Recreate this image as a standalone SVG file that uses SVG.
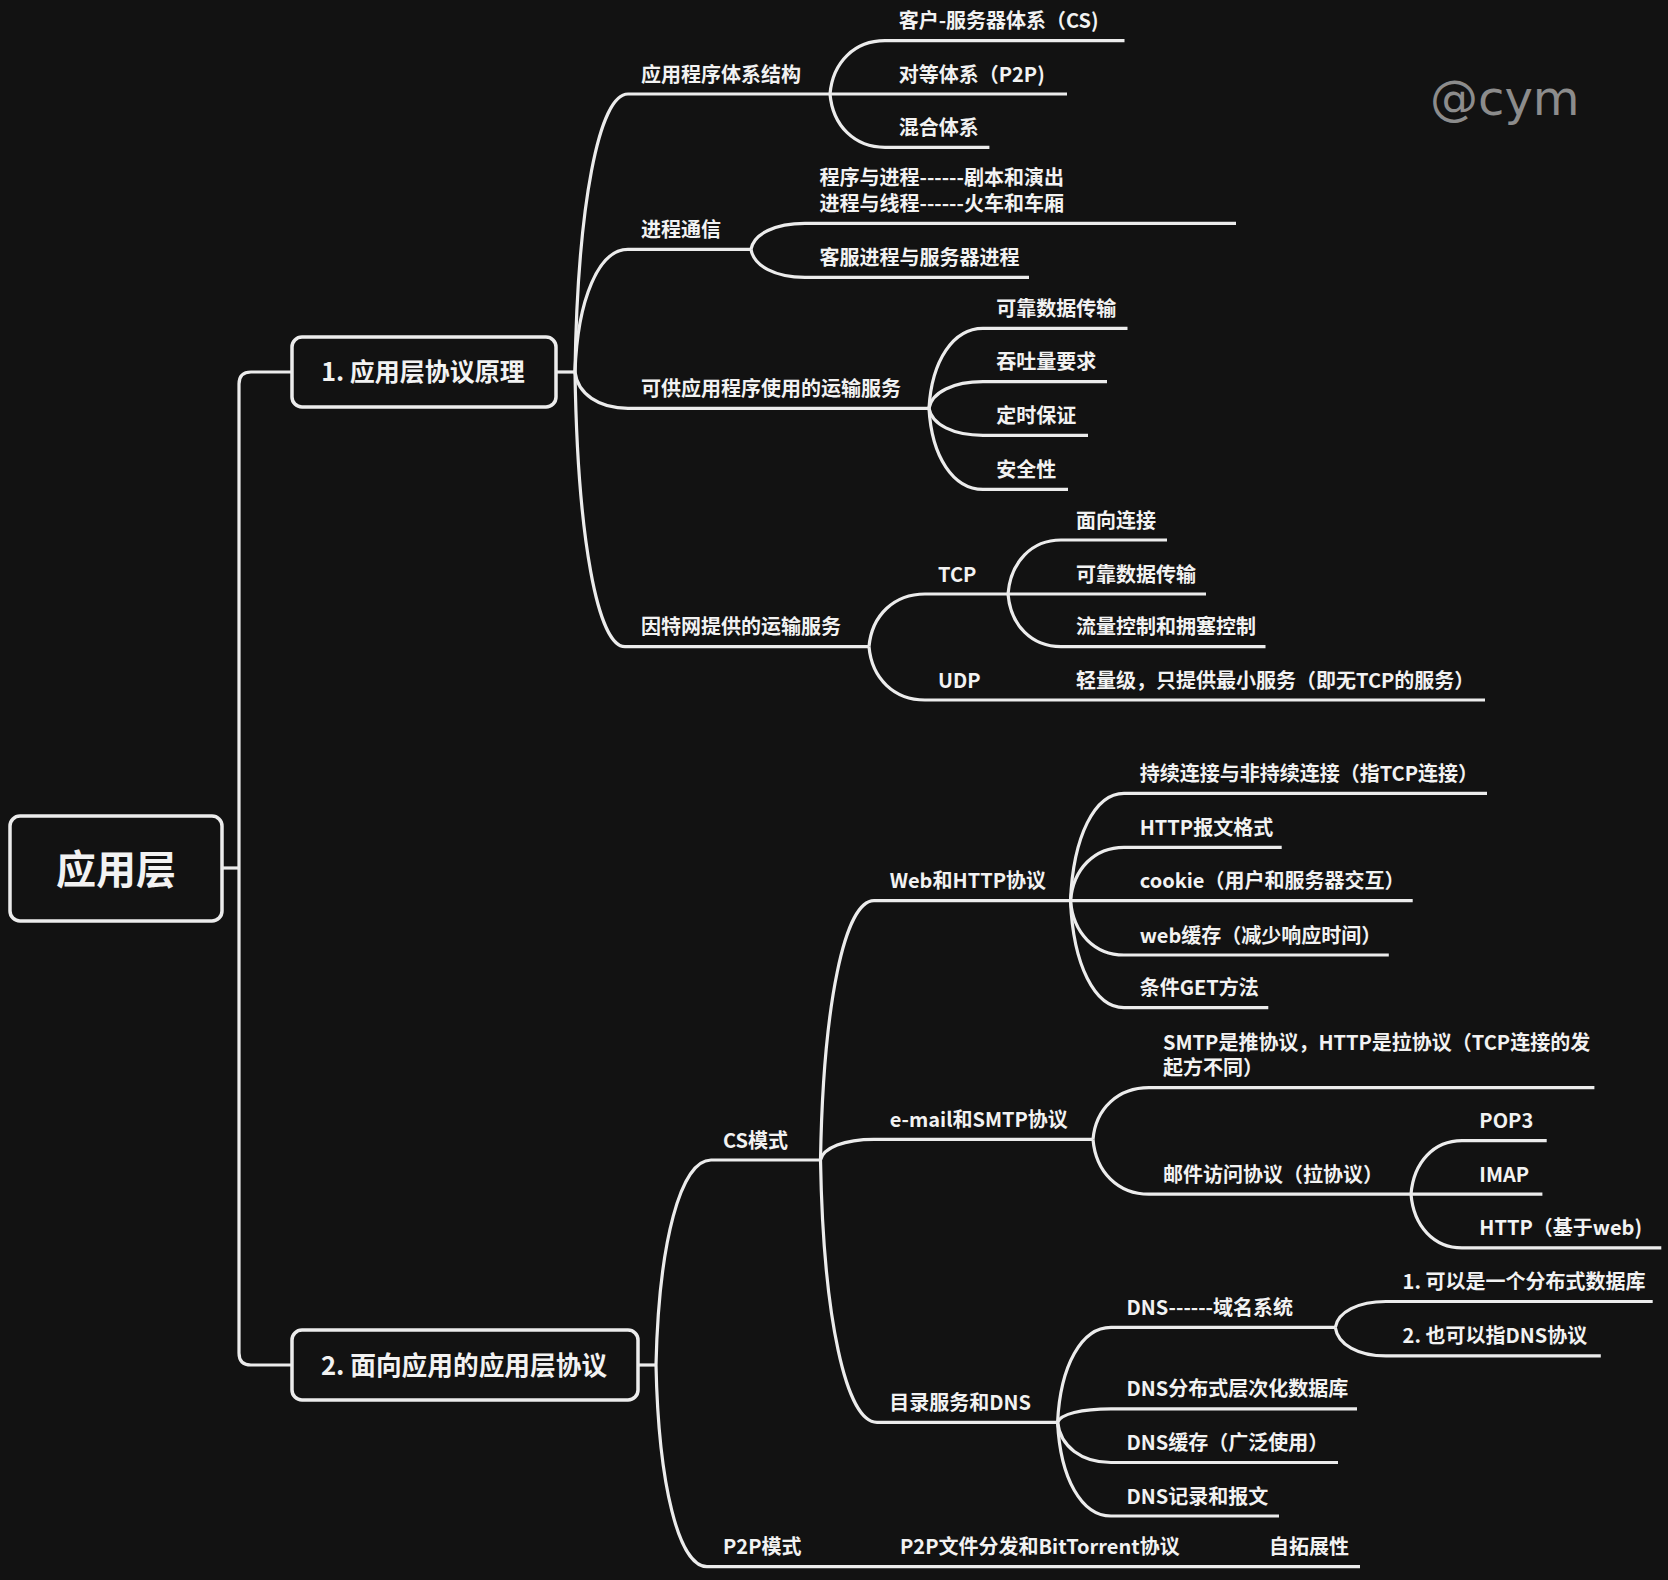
<svg xmlns="http://www.w3.org/2000/svg" width="1668" height="1580" viewBox="0 0 1668 1580">
<style>
.bg{fill:#121212}
.box{fill:#121212;stroke:#ececec;stroke-width:3.5}
.ln{fill:none;stroke:#ececec;stroke-width:3.2}
text{font-family:"Noto Sans CJK SC","Noto Sans",sans-serif;font-weight:700;fill:#f2f2f2}
.t{font-size:20px}
.b1{font-size:25px}
.b2{font-size:25.7px}
.root{font-size:40px}
.wm{font-family:"DejaVu Sans",sans-serif;font-weight:400;font-size:48px;fill:#8c8c8c}
</style>
<rect class="bg" x="0" y="0" width="1668" height="1580"/>
<text class="wm" x="1430" y="115">@cym</text>
<g id="connectors">
<path class="ln" d="M222,868 H239"/>
<path class="ln" d="M292,372 H251 Q239,372 239,384 V1353 Q239,1365 251,1365 H292"/>
<path class="ln" d="M556,372 H575"/>
<path class="ln" d="M575,372 C577.6,205.2 598.9,94 628,94 H830"/>
<path class="ln" d="M575,372 C577.6,298.4 598.9,249.3 628,249.3 H751"/>
<path class="ln" d="M575,372 C577.6,393.8 598.9,408.3 628,408.3 H929"/>
<path class="ln" d="M575,372 C577.5,536.8 597.5,646.7 625,646.7 H869"/>
<path class="ln" d="M830,94 C832.75,62 854.75,40.7 885,40.7 H1124.5"/>
<path class="ln" d="M830,94 H1067"/>
<path class="ln" d="M830,94 C832.75,126 854.75,147.3 885,147.3 H989.4"/>
<path class="ln" d="M751,249.3 C753.7,233.7 775.3,223.3 805,223.3 H1236"/>
<path class="ln" d="M751,249.3 C753.7,266.1 775.3,277.3 805,277.3 H1029"/>
<path class="ln" d="M929,408.3 C931.7,360.3 953.3,328.3 983,328.3 H1127.5"/>
<path class="ln" d="M929,408.3 C931.7,392.3 953.3,381.7 983,381.7 H1107"/>
<path class="ln" d="M929,408.3 C931.7,424.5 953.3,435.3 983,435.3 H1088"/>
<path class="ln" d="M929,408.3 C931.7,456.9 953.3,489.3 983,489.3 H1068"/>
<path class="ln" d="M869,646.7 C871.8,615.1 894.2,594 925,594 H1008"/>
<path class="ln" d="M869,646.7 C871.8,678.7 894.2,700 925,700 H1485"/>
<path class="ln" d="M1008,594 C1010.65,561.6 1031.85,540 1061,540 H1167"/>
<path class="ln" d="M1008,594 H1206"/>
<path class="ln" d="M1008,594 C1010.65,625.6 1031.85,646.7 1061,646.7 H1265.5"/>
<path class="ln" d="M638,1365 H656"/>
<path class="ln" d="M656,1365 C658.75,1242 680.75,1160 711,1160 H820.5"/>
<path class="ln" d="M656,1365 C658.55,1486 678.95,1566.7 707,1566.7 H1360"/>
<path class="ln" d="M820.5,1160 C823.2,1004.4 844.6,900.7 874,900.7 H1070.5"/>
<path class="ln" d="M820.5,1160 C823.2,1147.6 844.6,1139.3 874,1139.3 H1093"/>
<path class="ln" d="M820.5,1160 C823.3,1317.4 845.9,1422.3 877,1422.3 H1057.6"/>
<path class="ln" d="M1070.5,900.7 C1073.2,836.3 1094.6,793.3 1124,793.3 H1487"/>
<path class="ln" d="M1070.5,900.7 C1073.2,868.7 1094.6,847.3 1124,847.3 H1281.7"/>
<path class="ln" d="M1070.5,900.7 H1412.7"/>
<path class="ln" d="M1070.5,900.7 C1073.2,933.3 1094.6,955 1124,955 H1388.8"/>
<path class="ln" d="M1070.5,900.7 C1073.2,964.9 1094.6,1007.7 1124,1007.7 H1268.3"/>
<path class="ln" d="M1093,1139.3 C1095.8,1108.3 1118.2,1087.7 1149,1087.7 H1594.4"/>
<path class="ln" d="M1093,1139.3 C1095.8,1172.2 1118.2,1194.2 1149,1194.2 H1411"/>
<path class="ln" d="M1411,1194.2 C1413.6,1162 1434,1140.6 1462,1140.6 H1546.7"/>
<path class="ln" d="M1411,1194.2 H1542.4"/>
<path class="ln" d="M1411,1194.2 C1413.6,1226.4 1434,1247.9 1462,1247.9 H1661.3"/>
<path class="ln" d="M1057.6,1422.3 C1060.3,1365.4 1081.6,1327.4 1111,1327.4 H1335.3"/>
<path class="ln" d="M1057.6,1422.3 C1060.3,1414.2 1081.6,1408.8 1111,1408.8 H1357"/>
<path class="ln" d="M1057.6,1422.3 C1060.3,1446.4 1081.6,1462.5 1111,1462.5 H1338"/>
<path class="ln" d="M1057.6,1422.3 C1060.3,1478.5 1081.6,1516 1111,1516 H1279"/>
<path class="ln" d="M1335.3,1327.4 C1337.8,1311.9 1358.1,1301.5 1386,1301.5 H1652.7"/>
<path class="ln" d="M1335.3,1327.4 C1337.8,1344.5 1358.1,1355.9 1386,1355.9 H1600.8"/>
</g>
<g id="root"><rect class="box" x="10" y="816" width="212" height="105" rx="10"/><text class="root" x="116" y="884" text-anchor="middle">应用层</text></g>
<g id="n1"><rect class="box" x="292" y="337" width="264" height="70" rx="10"/><text class="b1" x="423" y="380.5" text-anchor="middle">1. 应用层协议原理</text></g>
<g id="n2"><rect class="box" x="292" y="1330" width="346" height="70" rx="10"/><text class="b2" x="464" y="1374.5" text-anchor="middle">2. 面向应用的应用层协议</text></g>
<g id="n1a"><text class="t" x="641" y="81.5">应用程序体系结构</text></g>
<g id="n1a1"><text class="t" x="898.7" y="28.2">客户-服务器体系（CS)</text></g>
<g id="n1a2"><text class="t" x="898.7" y="81.5">对等体系（P2P)</text></g>
<g id="n1a3"><text class="t" x="898.7" y="134.8">混合体系</text></g>
<g id="n1b"><text class="t" x="641" y="236.8">进程通信</text></g>
<g id="n1b1"><text class="t" x="819.5" y="185.3"><tspan x="819.5" y="185.3">程序与进程------剧本和演出</tspan><tspan x="819.5" y="210.8">进程与线程------火车和车厢</tspan></text></g>
<g id="n1b2"><text class="t" x="819.5" y="264.8">客服进程与服务器进程</text></g>
<g id="n1c"><text class="t" x="641" y="395.8">可供应用程序使用的运输服务</text></g>
<g id="n1c1"><text class="t" x="996.3" y="315.8">可靠数据传输</text></g>
<g id="n1c2"><text class="t" x="996.3" y="369.2">吞吐量要求</text></g>
<g id="n1c3"><text class="t" x="996.3" y="422.8">定时保证</text></g>
<g id="n1c4"><text class="t" x="996.3" y="476.8">安全性</text></g>
<g id="n1d"><text class="t" x="641" y="634.2">因特网提供的运输服务</text></g>
<g id="n1d1"><text class="t" x="938" y="581.5">TCP</text></g>
<g id="n1d1a"><text class="t" x="1076" y="527.5">面向连接</text></g>
<g id="n1d1b"><text class="t" x="1076" y="581.5">可靠数据传输</text></g>
<g id="n1d1c"><text class="t" x="1076" y="634.2">流量控制和拥塞控制</text></g>
<g id="n1d2"><text class="t" x="938" y="687.5">UDP</text></g>
<g id="n1d2a"><text class="t" x="1076" y="687.5">轻量级，只提供最小服务（即无TCP的服务）</text></g>
<g id="n2a"><text class="t" x="723" y="1147.5">CS模式</text></g>
<g id="n2a1"><text class="t" x="889.7" y="888.2">Web和HTTP协议</text></g>
<g id="n2a1a"><text class="t" x="1139.7" y="780.8">持续连接与非持续连接（指TCP连接）</text></g>
<g id="n2a1b"><text class="t" x="1139.7" y="834.8">HTTP报文格式</text></g>
<g id="n2a1c"><text class="t" x="1139.7" y="888.2">cookie（用户和服务器交互）</text></g>
<g id="n2a1d"><text class="t" x="1139.7" y="942.5">web缓存（减少响应时间）</text></g>
<g id="n2a1e"><text class="t" x="1139.7" y="995.2">条件GET方法</text></g>
<g id="n2a2"><text class="t" x="889.7" y="1126.8">e-mail和SMTP协议</text></g>
<g id="n2a2a"><text class="t" x="1163" y="1050"><tspan x="1163" y="1050">SMTP是推协议，HTTP是拉协议（TCP连接的发</tspan><tspan x="1163" y="1075.2">起方不同）</tspan></text></g>
<g id="n2a2b"><text class="t" x="1163" y="1181.7">邮件访问协议（拉协议）</text></g>
<g id="n2a2b1"><text class="t" x="1479.3" y="1128.1">POP3</text></g>
<g id="n2a2b2"><text class="t" x="1479.3" y="1181.7">IMAP</text></g>
<g id="n2a2b3"><text class="t" x="1479.3" y="1235.4">HTTP（基于web)</text></g>
<g id="n2a3"><text class="t" x="889.3" y="1409.8">目录服务和DNS</text></g>
<g id="n2a3a"><text class="t" x="1126.5" y="1314.9">DNS------域名系统</text></g>
<g id="n2a3a1"><text class="t" x="1402.6" y="1289">1. 可以是一个分布式数据库</text></g>
<g id="n2a3a2"><text class="t" x="1402.6" y="1343.4">2. 也可以指DNS协议</text></g>
<g id="n2a3b"><text class="t" x="1126.5" y="1396.3">DNS分布式层次化数据库</text></g>
<g id="n2a3c"><text class="t" x="1126.5" y="1450">DNS缓存（广泛使用）</text></g>
<g id="n2a3d"><text class="t" x="1126.5" y="1503.5">DNS记录和报文</text></g>
<g id="n2b"><text class="t" x="723" y="1554.2">P2P模式</text></g>
<g id="n2b1"><text class="t" x="900" y="1554.2">P2P文件分发和BitTorrent协议</text></g>
<g id="n2b1a"><text class="t" x="1269" y="1554.2">自拓展性</text></g>
</svg>
